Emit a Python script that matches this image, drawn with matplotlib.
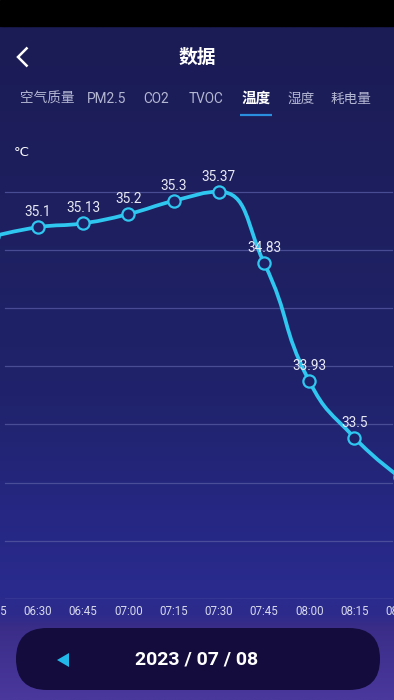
import numpy as np
import matplotlib.pyplot as plt
from matplotlib.path import Path
from matplotlib.patches import PathPatch, FancyBboxPatch, Polygon
from matplotlib.colors import LinearSegmentedColormap

plt.rcParams['font.family'] = ['Roboto', 'Noto Sans CJK SC', 'DejaVu Sans']

# data
times = ['06:15', '06:30', '06:45', '07:00', '07:15', '07:30', '07:45', '08:00', '08:15', '08:30']
temps = [35.03, 35.1, 35.13, 35.2, 35.3, 35.37, 34.83, 33.93, 33.5, 33.2]
labels = ['35.03', '35.1', '35.13', '35.2', '35.3', '35.37', '34.83', '33.93', '33.5', '33.2']
tabs = ['空气质量', 'PM2.5', 'CO2', 'TVOC', '温度', '湿度', '耗电量']
tab_x = [47, 107, 156, 206, 256, 301, 351]
active_tab = '温度'
date_text = '2023 / 07 / 08'

W, H = 394, 700
LINE = '#2fc6f0'
BG_CHART = '#1f2167'

fig = plt.figure(figsize=(W / 100, H / 100), dpi=100)

# background gradient (pixel coords, y down)
bg = fig.add_axes([0, 0, 1, 1])
bg.set_xlim(0, W)
bg.set_ylim(H, 0)
bg.axis('off')
stops = [(0.0, '#1b1c55'), (0.25, '#1d1f5e'), (0.55, '#20236b'), (0.72, '#252782'),
         (0.85, '#2a2b8e'), (0.875, '#2d2b8c'), (0.895, '#3a2d88'), (1.0, '#4a389c')]
cmap = LinearSegmentedColormap.from_list('bgc', stops)
grad = np.linspace(0, 1, 400).reshape(-1, 1)
bg.imshow(grad, cmap=cmap, extent=[0, W, H, 26], aspect='auto', zorder=0)
bg.add_patch(plt.Rectangle((0, 0), W, 26, color='black', zorder=1))

# header
bg.plot([27.5, 18, 27.5], [47.5, 57, 66.5], color='white', lw=1.8,
        solid_joinstyle='miter', solid_capstyle='butt')
bg.text(197, 57, '数据', color='white', fontsize=13.5, ha='center', va='center',
        fontweight='bold', family=['Noto Sans CJK SC'])
for t, x in zip(tabs, tab_x):
    active = t == active_tab
    bg.text(x, 99, t, color='white' if active else '#b4b7d2', fontsize=10.5 if active else 9.8,
            ha='center', va='center', fontweight='bold' if active else 'normal',
            family=['Roboto', 'Noto Sans CJK SC'])
bg.plot([240, 272], [115, 115], color='#2b8fe0', lw=1.6, solid_capstyle='butt')
bg.text(14, 152, '°C', color='white', fontsize=9.5, ha='left', va='center',
        family=['DejaVu Sans'])

# chart axes: x pixel 0..394, y pixel 130..599
ax = fig.add_axes([0, 101 / H, 1, (599 - 130) / H])
ax.patch.set_alpha(0)
for s in ax.spines.values():
    s.set_visible(False)
ax.set_xticks([])
ax.set_yticks([])

px0, dx = 38, 45.2
ax.set_xlim(1 - px0 / dx, 1 + (W - px0) / dx)
ppd = 131.5
y_hi = 35.37 + (191.7 - 130) / ppd
y_lo = 35.37 - (599 - 191.7) / ppd
ax.set_ylim(y_lo, y_hi)

grid_vals = np.linspace(y_lo, 35.37, 8)
for i, g in enumerate(grid_vals):
    ax.axhline(g, xmin=5 / W, xmax=392 / W, color='#8a8cd0' if i == 0 else '#5458a0',
               lw=0.9, alpha=0.9 if i == 0 else 0.8, zorder=1)

xs = np.arange(len(temps))
ys = np.array(temps)

# smooth curve like echarts (bounded control points), built in display coords
fig.canvas.draw()
pts = ax.transData.transform(np.column_stack([xs, ys]))
sm = 0.5
n = len(pts)
cp_next, cp_prev = [None] * n, [None] * n
for i in range(n):
    p = pts[i]
    prev = pts[i - 1] if i > 0 else p
    nxt = pts[i + 1] if i < n - 1 else p
    if i == 0 or i == n - 1:
        cp_next[i] = p.copy()
        cp_prev[i] = p.copy()
        continue
    v = (nxt - prev) * sm
    l0 = np.hypot(*(p - prev))
    l1 = np.hypot(*(nxt - p))
    r = l1 / (l0 + l1)
    c1 = p + v * r
    c1 = np.minimum(c1, np.maximum(nxt, p))
    c1 = np.maximum(c1, np.minimum(nxt, p))
    v = c1 - p
    c0 = p - v * l0 / l1
    c0 = np.minimum(c0, np.maximum(prev, p))
    c0 = np.maximum(c0, np.minimum(prev, p))
    v = p - c0
    c1 = p + v * l1 / l0
    cp_next[i] = c1
    cp_prev[i] = c0
verts = [pts[0]]
codes = [Path.MOVETO]
for i in range(n - 1):
    verts += [cp_next[i], cp_prev[i + 1], pts[i + 1]]
    codes += [Path.CURVE4] * 3
inv = ax.transData.inverted()
verts = inv.transform(np.array(verts))
ax.add_patch(PathPatch(Path(verts, codes), fill=False, edgecolor=LINE, lw=2.7,
                       capstyle='round', joinstyle='round', zorder=3))

ax.plot(xs, ys, 'o', ms=8.8, mfc=BG_CHART, mec=LINE, mew=1.6, zorder=4)
for x, y, lab in zip(xs, ys, labels):
    ax.annotate(lab, (x, y), xytext=(0, 10.8), textcoords='offset points',
                ha='center', va='center', color='#e8e9f4', fontsize=9.8, zorder=5)

for x, t in zip(xs, times):
    ax.text(x, y_lo - 12.5 / ppd, t, ha='center', va='center', color='#d8d9ec',
            fontsize=8.3, clip_on=False)

# bottom date selector
bg.add_patch(FancyBboxPatch((16, 628), 364, 62, boxstyle='round,pad=0,rounding_size=31',
                            facecolor='#130c3c', edgecolor='none', zorder=2))
bg.add_patch(Polygon([[57, 660], [69, 653], [69, 667]], closed=True,
                     facecolor='#22b8ea', edgecolor='none', zorder=3))
bg.text(197, 660, date_text, ha='center', va='center', color='white', fontsize=14,
        fontweight='bold', zorder=3)

fig.savefig('out.png', dpi=100)
